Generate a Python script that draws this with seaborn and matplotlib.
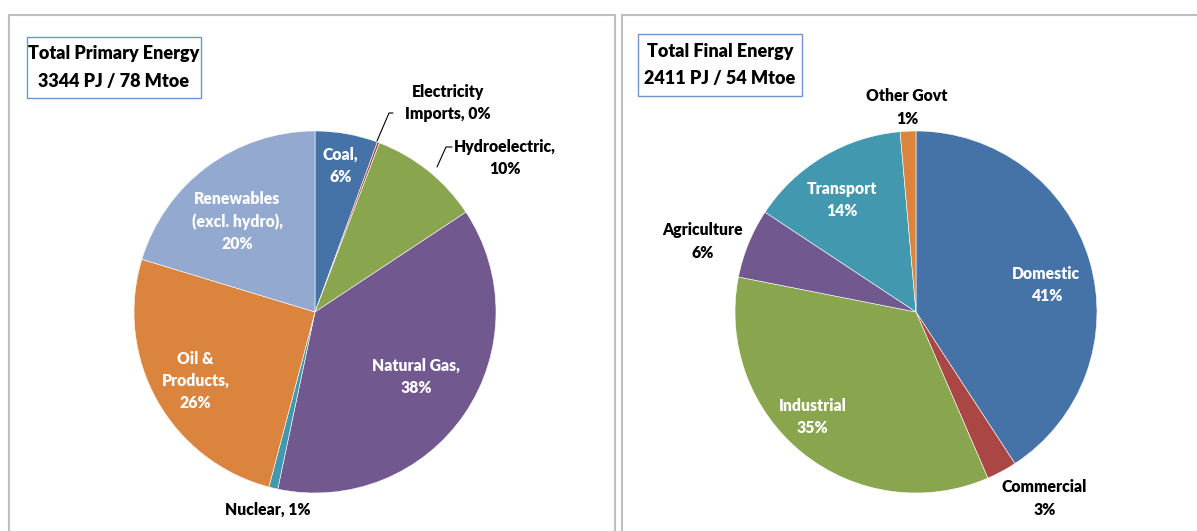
import matplotlib
matplotlib.use("Agg")
import matplotlib.pyplot as plt
import seaborn as sns
from matplotlib.patches import Rectangle

sns.set_theme(style="white")
plt.rcParams['font.family'] = ['Lato', 'DejaVu Sans']

# primary energy shares (%), clockwise from 12 o'clock
primary_labels = ['Coal,\n', 'Electricity\nImports, ', 'Hydroelectric,\n', 'Natural Gas,\n',
                  'Nuclear, ', 'Oil &\nProducts,\n', 'Renewables\n(excl. hydro),\n']
primary_values = [5.6, 0.2, 9.9, 37.6, 0.8, 25.6, 20.3]
primary_colors = ['#4572A7', '#AA4643', '#89A54E', '#71588F', '#4198AF', '#DB843D', '#93A9CF']

# final energy shares (%)
final_labels = ['Domestic\n', 'Commercial\n', 'Industrial\n', 'Agriculture\n', 'Transport\n', 'Other Govt\n']
final_values = [40.8, 2.7, 34.6, 6.2, 14.3, 1.4]
final_colors = ['#4572A7', '#AA4643', '#89A54E', '#71588F', '#4198AF', '#DB843D']

W, H = 1197, 531
fig = plt.figure(figsize=(W / 100, H / 100), dpi=100)
ax = fig.add_axes([0, 0, 1, 1])

R = 181


def draw_pie(cx, cy, values, colors, labels, label_pos, label_white):
    ax.pie(values, colors=sns.color_palette(colors), startangle=90, counterclock=False,
           center=(cx, H - cy), radius=R, frame=True,
           wedgeprops=dict(edgecolor='white', linewidth=0.4))
    for lab, v, (dx, dy), white in zip(labels, values, label_pos, label_white):
        txt = "%s%d%%" % (lab, round(v))
        ax.text(cx + dx * R, H - cy + dy * R, txt, ha='center', va='center',
                fontsize=11.3, fontweight='heavy', linespacing=1.48,
                color='white' if white else 'black')


# left panel
primary_pos = [(0.14, 0.81), (0.735, 1.155), (1.05, 0.85), (0.56, -0.36),
               (-0.26, -1.09), (-0.66, -0.38), (-0.43, 0.50)]
primary_white = [True, False, False, True, False, True, True]
draw_pie(315, 312, primary_values, primary_colors, primary_labels,
         primary_pos, primary_white)

# leader lines
ax.plot([393, 389, 377], [H - 113, H - 113, H - 141], color='black', lw=0.8)
ax.plot([452, 446, 437], [H - 147, H - 147, H - 167], color='black', lw=0.8)

# right panel
final_pos = [(0.72, 0.15), (0.71, -1.03), (-0.57, -0.58), (-1.18, 0.39),
             (-0.41, 0.62), (-0.05, 1.13)]
final_white = [True, False, True, False, True, False]
draw_pie(916, 312, final_values, final_colors, final_labels,
         final_pos, final_white)

# panel borders
for x0, x1 in [(9, 615), (622, 1210)]:
    ax.add_patch(Rectangle((x0, -20), x1 - x0, H - 15 + 20, fill=False,
                           edgecolor='#BFBFBF', lw=1.5))

# title boxes
for (x0, y0, x1, y1), title in [((27, 37, 201, 98), 'Total Primary Energy\n3344 PJ / 78 Mtoe'),
                                ((638, 34, 802, 96), 'Total Final Energy\n2411 PJ / 54 Mtoe')]:
    ax.add_patch(Rectangle((x0, H - y1), x1 - x0, y1 - y0, fill=False,
                           edgecolor='#6F94CF', lw=1.0))
    ax.text((x0 + x1) / 2, H - (y0 + y1) / 2, title, ha='center', va='center',
            fontsize=13, fontweight='heavy', linespacing=1.75, color='black')

ax.set_xlim(0, W)
ax.set_ylim(0, H)
ax.set_aspect('equal')
ax.axis('off')

fig.savefig('out.png', dpi=100, facecolor='white')
